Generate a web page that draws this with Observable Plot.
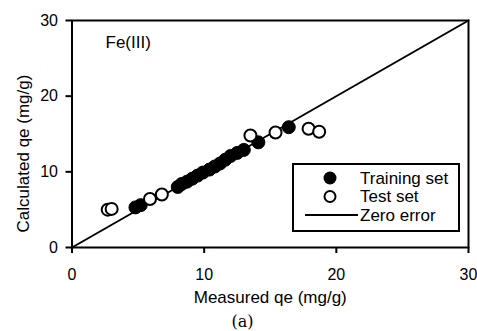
<!DOCTYPE html>
<html><head><meta charset="utf-8">
<script src="https://cdn.jsdelivr.net/npm/d3@7"></script>
<script src="https://cdn.jsdelivr.net/npm/@observablehq/plot@0.6"></script>
<style>
body{margin:0;background:#fff;overflow:hidden;}
#wrap{position:relative;width:477px;font-family:"Liberation Sans",Arial,sans-serif;}
#legend{position:absolute;left:292px;top:163px;width:168px;height:69px;border:2px solid #000;box-sizing:border-box;background:#fff;}
#caption{width:477px;box-sizing:border-box;padding-left:8px;text-align:center;font-family:"DejaVu Serif",serif;font-size:16px;line-height:29px;height:24px;}
</style>
</head><body>
<div id="wrap"></div>
<div id="caption">(a)</div>
<script>
// Data
const trainX = [4.8, 5.2, 8.0, 8.3, 8.7, 9.1, 9.5, 9.9, 10.4, 10.8, 11.2, 11.6, 12.0, 12.5, 13.0, 14.1, 16.4];
const trainY = [5.3, 5.6, 8.0, 8.4, 8.7, 9.1, 9.5, 9.9, 10.3, 10.7, 11.1, 11.6, 12.1, 12.5, 12.9, 13.9, 15.9];
const testX = [2.7, 3.0, 5.9, 6.8, 13.5, 15.4, 17.9, 18.7];
const testY = [5.0, 5.1, 6.4, 7.0, 14.8, 15.2, 15.7, 15.3];
const zeroLineX = [0, 30];
const zeroLineY = [0, 30];
const tickValues = [0, 10, 20, 30];
const xLabel = "Measured qe (mg/g)";
const yLabel = "Calculated qe (mg/g)";
const panelLabel = "Fe(III)";
const seriesNames = ["Training set", "Test set", "Zero error"];

const training = trainX.map((x, i) => ({x, y: trainY[i]}));
const test = testX.map((x, i) => ({x, y: testY[i]}));
const zero = zeroLineX.map((x, i) => ({x, y: zeroLineY[i]}));

const chart = Plot.plot({
  width: 477,
  height: 307,
  marginLeft: 71.5,
  marginRight: 9,
  marginTop: 20,
  marginBottom: 60,
  style: {fontFamily: '"Liberation Sans", Arial, sans-serif', fontSize: "16px", background: "#fff", color: "#000"},
  x: {domain: [0, 30]},
  y: {domain: [0, 30]},
  marks: [
    Plot.line(zero, {x: "x", y: "y", stroke: "#000", strokeWidth: 2}),
    Plot.dot(training, {x: "x", y: "y", r: 6.5, fill: "#000", stroke: "#000", strokeWidth: 1}),
    Plot.dot(test, {x: "x", y: "y", r: 6, fill: "#fff", stroke: "#000", strokeWidth: 2}),
    Plot.frame({stroke: "#000", strokeWidth: 2}),
    Plot.axisX({ticks: tickValues, tickFormat: d3.format("d"), tickSize: 6, tickPadding: 15.5, strokeWidth: 2, label: null, fontSize: 16}),
    Plot.axisY({ticks: tickValues, tickFormat: d3.format("d"), tickSize: 6, tickPadding: 8, strokeWidth: 2, label: null, fontSize: 16}),
    Plot.text([xLabel], {frameAnchor: "bottom", lineAnchor: "middle", textAnchor: "middle", dy: 50, text: d => d, fontSize: 17}),
    Plot.text([yLabel], {frameAnchor: "left", textAnchor: "middle", lineAnchor: "middle", rotate: -90, dx: -48, dy: 19.5, text: d => d, fontSize: 17}),
    Plot.text([panelLabel], {frameAnchor: "top-left", textAnchor: "start", lineAnchor: "middle", dx: 33.5, dy: 22, text: d => d, fontSize: 17})
  ]
});
const wrap = document.getElementById("wrap");
wrap.appendChild(chart);

// Legend overlay
const legend = document.createElement("div");
legend.id = "legend";
wrap.appendChild(legend);
const ls = d3.select(legend).append("svg").attr("width", 164).attr("height", 65)
  .style("position", "absolute").style("left", "0").style("top", "0");
const rows = [13, 31.5, 50];
ls.append("circle").attr("cx", 36).attr("cy", rows[0]).attr("r", 6.5).attr("fill", "#000");
ls.append("circle").attr("cx", 36).attr("cy", rows[1]).attr("r", 5.5).attr("fill", "#fff").attr("stroke", "#000").attr("stroke-width", 2);
ls.append("line").attr("x1", 11).attr("x2", 64).attr("y1", rows[2]).attr("y2", rows[2]).attr("stroke", "#000").attr("stroke-width", 2);
seriesNames.forEach((t, i) => {
  ls.append("text").attr("x", 66).attr("y", rows[i]).attr("dy", "0.35em")
    .attr("font-family", '"Liberation Sans", Arial, sans-serif').attr("font-size", 17).text(t);
});
</script>
</body></html>
